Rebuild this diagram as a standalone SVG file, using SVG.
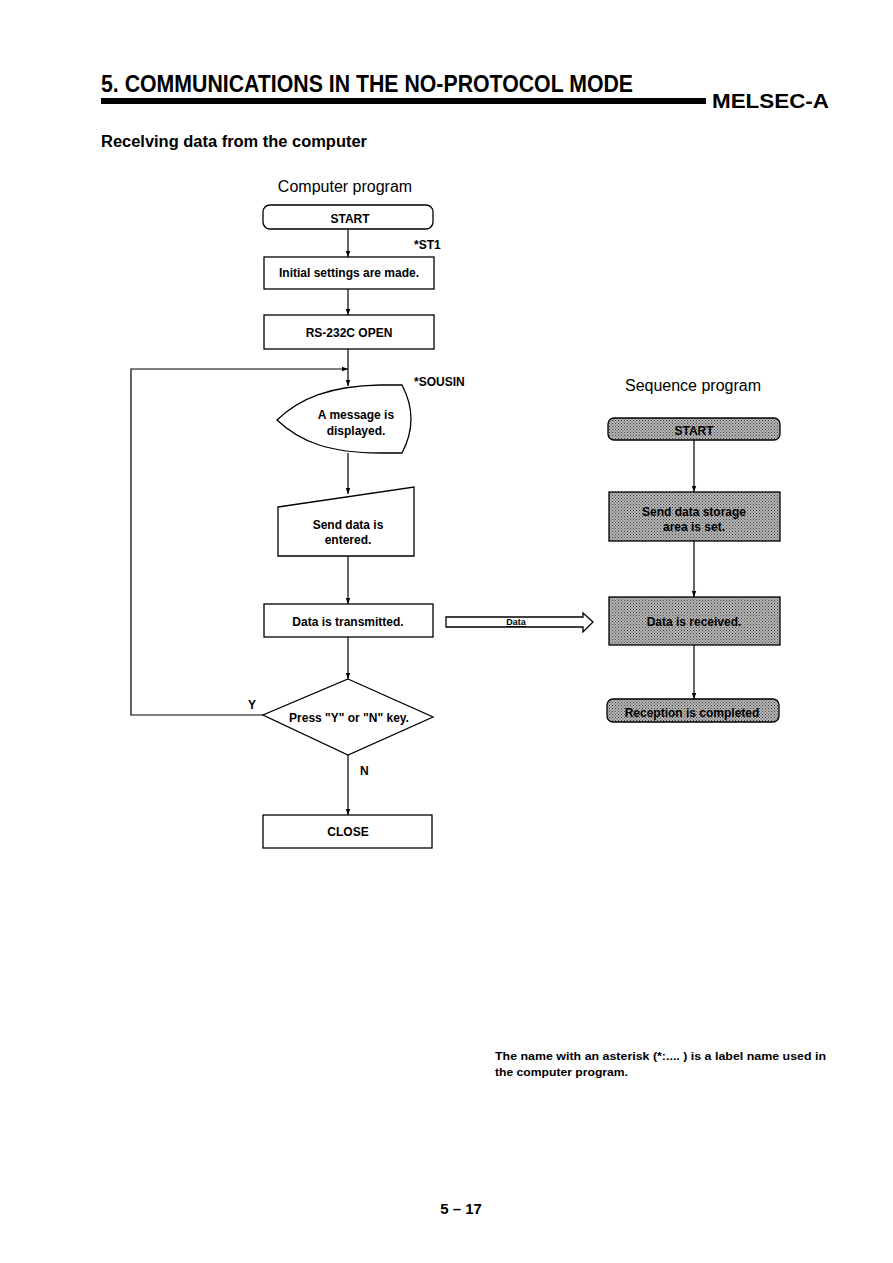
<svg xmlns="http://www.w3.org/2000/svg" width="893" height="1263" viewBox="0 0 893 1263">
<style>
text{font-family:"Liberation Sans",Arial,sans-serif;fill:#000}
.b{font-weight:bold}
.node{fill:#fff;stroke:#000;stroke-width:1.3}
.gnode{fill:url(#dots);stroke:#000;stroke-width:1.3}
.lbl{font-size:12px;font-weight:bold;text-anchor:middle}
.conn{fill:none;stroke:#000;stroke-width:1.2}
</style>
<defs>
<pattern id="dots" width="3" height="3" patternUnits="userSpaceOnUse">
<rect width="3" height="3" fill="#b4b4b4"/>
<rect x="0" y="0" width="1" height="1" fill="#444"/>
<rect x="1.5" y="1.5" width="1" height="1" fill="#555"/>
</pattern>
<marker id="ar" viewBox="0 0 8 8" refX="8" refY="4" markerWidth="6" markerHeight="6" orient="auto" markerUnits="userSpaceOnUse">
<path d="M0,1 L8,4 L0,7 Z" fill="#000"/>
</marker>
</defs>
<rect width="893" height="1263" fill="#fff"/>

<!-- header -->
<text x="101" y="92" class="b" font-size="23" textLength="532" lengthAdjust="spacingAndGlyphs">5.  COMMUNICATIONS IN THE NO-PROTOCOL MODE</text>
<rect x="101" y="98" width="605" height="6" fill="#000"/>
<text x="712" y="108" class="b" font-size="21" textLength="117" lengthAdjust="spacingAndGlyphs">MELSEC-A</text>
<text x="101" y="147" class="b" font-size="16" textLength="266" lengthAdjust="spacingAndGlyphs">Recelving data from the computer</text>

<text x="345" y="192" font-size="16" text-anchor="middle">Computer program</text>
<text x="693" y="391" font-size="16" text-anchor="middle">Sequence program</text>

<!-- connectors -->
<g id="connectors">
<line class="conn" x1="348" y1="229" x2="348" y2="257" marker-end="url(#ar)"/>
<line class="conn" x1="348" y1="289" x2="348" y2="315" marker-end="url(#ar)"/>
<line class="conn" x1="348" y1="349" x2="348" y2="386" marker-end="url(#ar)"/>
<polyline class="conn" points="263,715 131,715 131,369 348,369" marker-end="url(#ar)"/>
<line class="conn" x1="348" y1="453" x2="348" y2="494" marker-end="url(#ar)"/>
<line class="conn" x1="348" y1="556" x2="348" y2="604" marker-end="url(#ar)"/>
<line class="conn" x1="348" y1="637" x2="348" y2="679" marker-end="url(#ar)"/>
<line class="conn" x1="348" y1="755" x2="348" y2="815" marker-end="url(#ar)"/>
<line class="conn" x1="694" y1="440" x2="694" y2="492" marker-end="url(#ar)"/>
<line class="conn" x1="694" y1="541" x2="694" y2="597" marker-end="url(#ar)"/>
<line class="conn" x1="694" y1="645" x2="694" y2="699" marker-end="url(#ar)"/>
<g id="data-arrow">
<path d="M446,617 L583,617 L583,613 L593,622 L583,632 L583,627 L446,627 Z" fill="#fff" stroke="#000" stroke-width="1.3"/>
<text x="516" y="625" font-size="9" font-weight="bold" text-anchor="middle" text-decoration="underline">Data</text>
</g>
<text x="414" y="249" class="b" font-size="12">*ST1</text>
<text x="414" y="386" class="b" font-size="12">*SOUSIN</text>
<text x="248" y="709" class="b" font-size="12">Y</text>
<text x="360" y="775" class="b" font-size="12">N</text>
</g>

<!-- computer program nodes -->
<g id="c-start">
<rect class="node" x="263" y="205" width="170" height="24" rx="7"/>
<text class="lbl" x="350" y="223">START</text>
</g>
<g id="c-init">
<rect class="node" x="264" y="257" width="170" height="32"/>
<text class="lbl" x="349" y="277">Initial settings are made.</text>
</g>
<g id="c-open">
<rect class="node" x="264" y="315" width="170" height="34"/>
<text class="lbl" x="349" y="337">RS-232C OPEN</text>
</g>
<g id="c-display">
<path class="node" d="M277,420 C300,398 330,386 380,385 L402,385 Q420,419 402,453 L380,453 C330,453 300,442 277,420 Z"/>
<text class="lbl" x="356" y="419">A message is</text>
<text class="lbl" x="356" y="435">displayed.</text>
</g>
<g id="c-input">
<path class="node" d="M278,507 L414,487 L414,556 L278,556 Z"/>
<text class="lbl" x="348" y="529">Send data is</text>
<text class="lbl" x="348" y="544">entered.</text>
</g>
<g id="c-transmit">
<rect class="node" x="264" y="604" width="169" height="33"/>
<text class="lbl" x="348" y="626">Data is transmitted.</text>
</g>
<g id="c-decision">
<path class="node" d="M348,679 L433,717 L348,755 L263,715 Z"/>
<text class="lbl" x="349" y="722">Press "Y" or "N" key.</text>
</g>
<g id="c-close">
<rect class="node" x="263" y="815" width="169" height="33"/>
<text class="lbl" x="348" y="836">CLOSE</text>
</g>

<!-- sequence program nodes -->
<g id="s-start">
<rect class="gnode" x="608" y="418" width="172" height="22" rx="6"/>
<text class="lbl" x="694" y="435">START</text>
</g>
<g id="s-storage">
<rect class="gnode" x="609" y="492" width="171" height="49"/>
<text class="lbl" x="694" y="516">Send data storage</text>
<text class="lbl" x="694" y="531">area is set.</text>
</g>
<g id="s-received">
<rect class="gnode" x="609" y="597" width="171" height="48"/>
<text class="lbl" x="694" y="626">Data is received.</text>
</g>
<g id="s-complete">
<rect class="gnode" x="607" y="699" width="172" height="23" rx="6"/>
<text class="lbl" x="692" y="717">Reception is completed</text>
</g>

<!-- footnote -->
<text x="495" y="1060" class="b" font-size="11" textLength="331" lengthAdjust="spacingAndGlyphs">The name with an asterisk (*:.... ) is a label name used in</text>
<text x="495" y="1076" class="b" font-size="11" textLength="133" lengthAdjust="spacingAndGlyphs">the computer program.</text>
<text x="461" y="1214" class="b" font-size="15" text-anchor="middle">5 – 17</text>
</svg>
